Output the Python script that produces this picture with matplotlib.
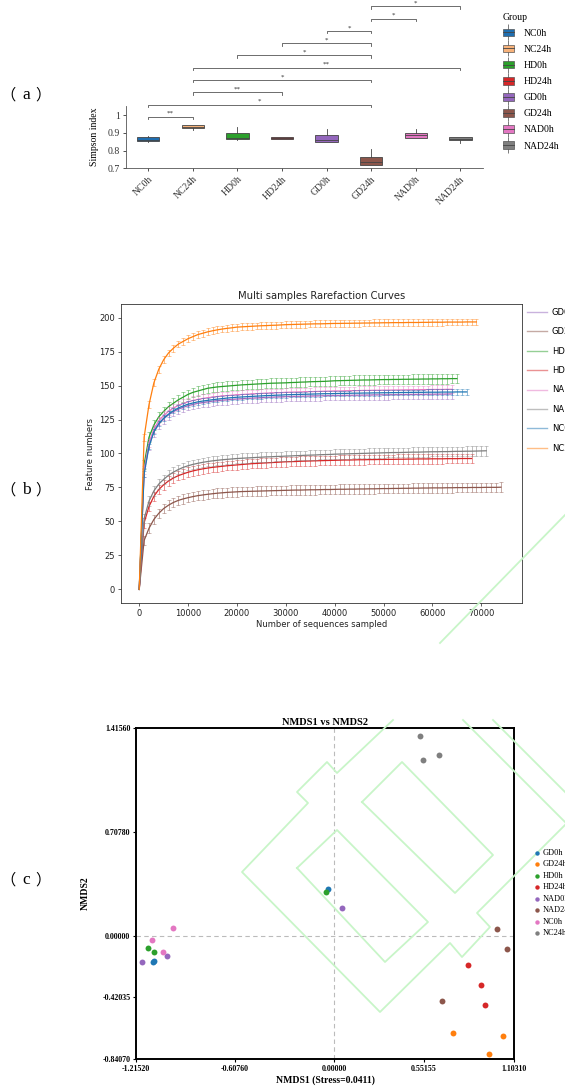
import numpy as np
import matplotlib
matplotlib.use('Agg')
import matplotlib.pyplot as plt
from matplotlib.patches import Patch
from matplotlib.lines import Line2D
from matplotlib.legend_handler import HandlerTuple
from matplotlib.ticker import FuncFormatter

SERIF = 'Liberation Serif'
CJK = ['Noto Sans CJK SC', 'Liberation Serif']

# ===================== (a) Simpson index =====================
A_GROUPS = ['NC0h', 'NC24h', 'HD0h', 'HD24h', 'GD0h', 'GD24h', 'NAD0h', 'NAD24h']
A_COLORS = ['#1f6eb0', '#f7b27a', '#2ca02c', '#d62728', '#9467bd', '#8c564b', '#e377c2', '#7f7f7f']
SIMPSON_LO = [0.846, 0.916, 0.862, 0.864, 0.849, 0.718, 0.870, 0.843]
SIMPSON_Q1 = [0.852, 0.928, 0.864, 0.865, 0.851, 0.720, 0.872, 0.860]
SIMPSON_MED = [0.862, 0.935, 0.870, 0.869, 0.858, 0.735, 0.885, 0.867]
SIMPSON_Q3 = [0.874, 0.944, 0.899, 0.874, 0.888, 0.764, 0.899, 0.876]
SIMPSON_HI = [0.880, 0.944, 0.930, 0.876, 0.919, 0.806, 0.923, 0.877]
# significance brackets (group index pairs), bottom to top
SIG_PAIRS = [(0, 1), (0, 5), (1, 3), (1, 5), (1, 7), (2, 5), (3, 5), (4, 5), (5, 6), (5, 7)]
SIG_LABELS = ['**', '*', '**', '*', '**', '*', '*', '*', '*', '*']

# ===================== (b) rarefaction curves =====================
B_GROUPS = ['GD0h', 'GD24h', 'HD0h', 'HD24h', 'NAD0h', 'NAD24h', 'NC0h', 'NC24h']
B_COLORS = ['tab:purple', 'tab:brown', 'tab:green', 'tab:red', 'tab:pink', 'tab:gray', 'tab:blue', 'tab:orange']
DEPTH_STEP = 1000
RARE_GD0H = [0, 86, 106, 116, 121.5, 125.5, 128.5, 130.8, 132.6, 134, 135.2, 136.1, 136.9, 137.5, 138, 138.5,
             138.9, 139.2, 139.5, 139.8, 140.1,
             140.3, 140.5, 140.7, 140.9, 141.1, 141.3, 141.4, 141.6, 141.7, 141.8,
             141.9, 142, 142.1, 142.2, 142.3, 142.4, 142.4, 142.5, 142.6, 142.7,
             142.7, 142.8, 142.8, 142.9, 142.9, 143, 143, 143.1, 143.1, 143.2,
             143.2, 143.3, 143.3, 143.4, 143.4, 143.5, 143.5, 143.5, 143.6, 143.6,
             143.7, 143.7, 143.7, 143.8]
RARE_GD24H = [0, 36, 45, 51.5, 56, 59.5, 62, 64, 65.5, 66.6, 67.5, 68.3, 69, 69.5, 70, 70.4, 70.8, 71.1, 71.4,
              71.6, 71.8,
              72, 72.1, 72.2, 72.3, 72.4, 72.5, 72.6, 72.7, 72.8, 72.9,
              73, 73.1, 73.1, 73.2, 73.3, 73.3, 73.4, 73.5, 73.5, 73.6,
              73.7, 73.7, 73.8, 73.8, 73.9, 73.9, 74, 74, 74.1, 74.2,
              74.2, 74.3, 74.3, 74.4, 74.4, 74.5, 74.5, 74.6, 74.6, 74.7,
              74.7, 74.7, 74.8, 74.8, 74.9, 74.9, 74.9, 75, 75, 75, 75.1, 75.1, 75.1, 75.2]
RARE_HD0H = [0, 92, 112, 121, 127, 131, 134.5, 137, 139.5, 141.5, 143.5, 145, 146, 147, 148, 148.5, 149, 149.3,
             149.6, 149.9, 150.2,
             150.5, 150.7, 150.9, 151.1, 151.3, 151.5, 151.7, 151.8, 151.9, 152,
             152.2, 152.3, 152.5, 152.6, 152.8, 152.9, 153, 153.1, 153.3, 153.5,
             153.6, 153.7, 153.8, 153.9, 154, 154.1, 154.1, 154.2, 154.3, 154.4,
             154.4, 154.5, 154.5, 154.6, 154.6, 154.7, 154.7, 154.8, 154.8, 154.9,
             154.9, 155, 155, 155.1, 155.1]
RARE_HD24H = [0, 49, 61, 68.5, 73.5, 77, 79.8, 82, 83.7, 85, 86.2, 87.2, 88, 88.7, 89.3, 89.8, 90.2, 90.6, 91,
              91.3, 91.6,
              91.9, 92.2, 92.5, 92.7, 92.9, 93.1, 93.3, 93.5, 93.7, 93.9,
              94, 94.1, 94.3, 94.4, 94.5, 94.6, 94.7, 94.8, 94.9, 95,
              95.1, 95.2, 95.2, 95.3, 95.4, 95.4, 95.5, 95.5, 95.6, 95.6,
              95.7, 95.7, 95.8, 95.8, 95.9, 95.9, 96, 96, 96, 96.1,
              96.1, 96.1, 96.2, 96.2, 96.2, 96.3, 96.3, 96.3]
RARE_NAD0H = [0, 88, 108, 118, 124, 128, 131, 133.5, 135.3, 136.8, 138, 139, 139.8, 140.5, 141, 141.5, 141.9,
              142.3, 142.6, 142.9, 143.2,
              143.4, 143.6, 143.8, 144, 144.2, 144.4, 144.5, 144.7, 144.8, 145,
              145.1, 145.2, 145.3, 145.4, 145.5, 145.6, 145.7, 145.8, 145.9, 146,
              146, 146.1, 146.2, 146.2, 146.3, 146.4, 146.4, 146.5, 146.5, 146.6,
              146.6, 146.7, 146.7, 146.8, 146.8, 146.9, 146.9, 147, 147, 147.1,
              147.1, 147.1, 147.2, 147.2]
RARE_NAD24H = [0, 52, 65, 72.5, 77.5, 81, 84, 86.3, 88.2, 89.8, 91, 92, 92.8, 93.5, 94.1, 94.6, 95, 95.4, 95.7,
               96, 96.3,
               96.5, 96.7, 96.9, 97.1, 97.3, 97.5, 97.6, 97.8, 97.9, 98.1,
               98.2, 98.4, 98.5, 98.7, 98.8, 98.9, 99.1, 99.2, 99.3, 99.5,
               99.6, 99.7, 99.8, 99.9, 100, 100.1, 100.2, 100.3, 100.4, 100.5,
               100.6, 100.7, 100.7, 100.8, 100.9, 101, 101, 101.1, 101.2, 101.3,
               101.3, 101.4, 101.4, 101.5, 101.6, 101.6, 101.7, 101.7, 101.8, 101.9, 102]
RARE_NC0H = [0, 85, 105, 116, 122, 126, 129, 131.5, 133.5, 135, 136.3, 137.2, 138, 138.6, 139.1, 139.6, 140,
             140.4, 140.8, 141.1, 141.4,
             141.6, 141.8, 142, 142.2, 142.4, 142.6, 142.7, 142.9, 143, 143.2,
             143.3, 143.4, 143.5, 143.6, 143.7, 143.8, 143.9, 144, 144, 144.1,
             144.2, 144.2, 144.3, 144.4, 144.4, 144.5, 144.5, 144.6, 144.6, 144.7,
             144.7, 144.8, 144.8, 144.9, 144.9, 145, 145, 145, 145.1, 145.1,
             145.1, 145.2, 145.2, 145.2, 145.3, 145.3, 145.3]
RARE_NC24H = [0, 112, 136, 152, 162, 169, 174, 177.5, 180.5, 182.5, 184.5, 186, 187.5, 188.5, 189.5, 190.3, 191,
              191.6, 192.1, 192.5, 193,
              193.2, 193.4, 193.6, 193.8, 194, 194.1, 194.3, 194.4, 194.6, 194.8,
              194.9, 195, 195.1, 195.2, 195.3, 195.4, 195.4, 195.5, 195.6, 195.7,
              195.7, 195.8, 195.8, 195.9, 195.9, 196, 196, 196.1, 196.1, 196.2,
              196.2, 196.3, 196.3, 196.3, 196.4, 196.4, 196.4, 196.5, 196.5, 196.6,
              196.6, 196.6, 196.7, 196.7, 196.7, 196.7, 196.8, 196.8, 196.8]
RARE_CURVES = [RARE_GD0H, RARE_GD24H, RARE_HD0H, RARE_HD24H, RARE_NAD0H, RARE_NAD24H, RARE_NC0H, RARE_NC24H]
RARE_SD = [3.5, 3.5, 3.5, 3.5, 3.0, 3.5, 2.0, 2.5]

# ===================== (c) NMDS =====================
C_GROUPS = ['GD0h', 'GD24h', 'HD0h', 'HD24h', 'NAD0h', 'NAD24h', 'NC0h', 'NC24h']
C_COLORS = ['tab:blue', 'tab:orange', 'tab:green', 'tab:red', 'tab:purple', 'tab:brown', 'tab:pink', 'tab:gray']
NMDS1 = [[-0.039, -1.113, -1.107], [0.730, 1.038, 0.950], [-0.051, -1.143, -1.105], [0.820, 0.903, 0.924],
         [0.047, -1.027, -1.176], [1.000, 1.063, 0.662], [-0.986, -1.117, -1.052], [0.527, 0.644, 0.546]]
NMDS2 = [[0.318, -0.177, -0.172], [-0.661, -0.682, -0.809], [0.298, -0.082, -0.109], [-0.198, -0.334, -0.473],
         [0.191, -0.141, -0.177], [0.045, -0.093, -0.447], [0.052, -0.027, -0.109], [1.361, 1.231, 1.195]]
C_XTICKS = [-1.21520, -0.60760, 0.00000, 0.55155, 1.10310]
C_YTICKS = [-0.84070, -0.42035, 0.00000, 0.70780, 1.41560]

W, H = 565, 1088
fig = plt.figure(figsize=(W / 100, H / 100), dpi=100)


def fx(px):
    return px / W


def fy(py):
    return 1 - py / H


# ---------------- (a) ----------------
ax1 = fig.add_axes([fx(126), fy(168.3), fx(356.7), 62.1 / H])
stats = []
for i in range(len(A_GROUPS)):
    stats.append(dict(whislo=SIMPSON_LO[i], q1=SIMPSON_Q1[i], med=SIMPSON_MED[i],
                      q3=SIMPSON_Q3[i], whishi=SIMPSON_HI[i], fliers=[]))
bp = ax1.bxp(stats, positions=range(len(A_GROUPS)), widths=0.5, patch_artist=True,
             boxprops=dict(edgecolor='#444444', linewidth=0.6),
             medianprops=dict(color='#444444', linewidth=0.6),
             whiskerprops=dict(color='#444444', linewidth=0.6),
             capprops=dict(linewidth=0))
for patch, c in zip(bp['boxes'], A_COLORS):
    patch.set_facecolor(c)

ax1.set_xlim(-0.5, 7.5)
ax1.set_ylim(0.7, 1.05)
ax1.set_yticks([0.7, 0.8, 0.9, 1.0])
ax1.yaxis.set_major_formatter(FuncFormatter(lambda v, p: '%g' % v))
ax1.set_xticks(range(len(A_GROUPS)))
ax1.set_xticklabels(A_GROUPS, rotation=45, ha='right', rotation_mode='anchor')
for lab in ax1.get_xticklabels() + ax1.get_yticklabels():
    lab.set_fontfamily(SERIF)
    lab.set_fontsize(7)
ax1.tick_params(length=2.5, width=0.6, pad=2, colors='#333333')
ax1.set_ylabel('Simpson index', fontfamily=SERIF, fontsize=7, labelpad=6)
for s in ['top', 'right']:
    ax1.spines[s].set_visible(False)
for s in ['left', 'bottom']:
    ax1.spines[s].set_linewidth(0.6)
    ax1.spines[s].set_color('#555555')

# significance brackets
level0, dlevel, drop = 0.990, 0.0692, 0.014
for k, ((i, j), lab) in enumerate(zip(SIG_PAIRS, SIG_LABELS)):
    yy = level0 + k * dlevel
    ax1.plot([i, i, j, j], [yy - drop, yy, yy, yy - drop], color='#555555', lw=0.6, clip_on=False)
    ax1.text((i + j) / 2, yy + 0.004, lab, ha='center', va='bottom', fontsize=5,
             fontfamily=SERIF, color='#333333', clip_on=False)

handles = []
for c in A_COLORS:
    handles.append((Line2D([], [], color='#666666', lw=0, marker='|', markersize=12, markeredgewidth=0.6),
                    Patch(facecolor=c, edgecolor='#555555', linewidth=0.5),
                    Line2D([], [], color='#444444', lw=0.6)))
leg1 = fig.legend(handles, A_GROUPS, loc='upper left', bbox_to_anchor=(fx(496), fy(6)),
                  frameon=False, title='Group', handler_map={tuple: HandlerTuple(ndivide=1, pad=0)},
                  prop={'family': SERIF, 'size': 7}, handlelength=1.1, handleheight=0.8,
                  labelspacing=0.72, handletextpad=1.0, borderpad=0.2)
leg1.get_title().set_fontfamily(SERIF)
leg1.get_title().set_fontsize(7)
leg1._legend_box.align = 'left'

# ---------------- (b) ----------------
ax2 = fig.add_axes([fx(121), fy(603), fx(401), 299 / H])
for name, vals, c, sd in zip(B_GROUPS, RARE_CURVES, B_COLORS, RARE_SD):
    x = np.arange(len(vals)) * DEPTH_STEP
    y = np.array(vals)
    ax2.errorbar(x[1:], y[1:], yerr=sd, fmt='none', ecolor=c, alpha=0.5, elinewidth=0.7,
                 capsize=1.3, capthick=0.6)
    ax2.plot(x, y, color=c, lw=0.9)
ax2.set_xlim(-3730, 78330)
ax2.set_ylim(-10, 210)
ax2.set_xticks(range(0, 70001, 10000))
ax2.set_yticks(range(0, 201, 25))
ax2.tick_params(labelsize=6, length=2.2, width=0.5, pad=2, colors='#222222')
for s in ax2.spines.values():
    s.set_linewidth(0.6)
    s.set_color('#333333')
ax2.set_title('Multi samples Rarefaction Curves', fontsize=7.2, pad=3.5, color='#222222')
ax2.set_xlabel('Number of sequences sampled', fontsize=6, labelpad=1.5, color='#222222')
ax2.set_ylabel('Feature numbers', fontsize=6, labelpad=3, color='#222222')
b_handles = [Line2D([], [], color=c, lw=1.0, alpha=0.5) for c in B_COLORS]
fig.legend(b_handles, B_GROUPS, loc='upper left', bbox_to_anchor=(fx(521), fy(302)),
           frameon=False, fontsize=6, handlelength=2.4, labelspacing=1.25, handletextpad=0.6,
           borderpad=0.2)

# ---------------- (c) ----------------
ax3 = fig.add_axes([fx(136), fy(1059), fx(378), 331 / H])
ax3.axhline(0, color='#bbbbbb', ls=(0, (4, 3)), lw=0.8, zorder=1)
ax3.axvline(0, color='#bbbbbb', ls=(0, (4, 3)), lw=0.8, zorder=1)
for name, xs, ys, c in zip(C_GROUPS, NMDS1, NMDS2, C_COLORS):
    ax3.scatter(xs, ys, s=18, color=c, label=name, linewidths=0, zorder=3)
ax3.set_xlim(C_XTICKS[0], C_XTICKS[-1])
ax3.set_ylim(C_YTICKS[0], C_YTICKS[-1])
ax3.set_xticks(C_XTICKS)
ax3.set_xticklabels(['%.5f' % v for v in C_XTICKS])
ax3.set_yticks(C_YTICKS)
ax3.set_yticklabels(['%.5f' % v for v in C_YTICKS])
for lab in ax3.get_xticklabels() + ax3.get_yticklabels():
    lab.set_fontfamily(SERIF)
    lab.set_fontweight('bold')
    lab.set_fontsize(5.7)
ax3.tick_params(length=2, width=0.8, pad=2)
for s in ax3.spines.values():
    s.set_linewidth(1.4)
    s.set_color('black')
ax3.set_title('NMDS1 vs NMDS2', fontfamily=SERIF, fontweight='bold', fontsize=7.5, pad=2)
ax3.set_xlabel('NMDS1 (Stress=0.0411)', fontfamily=SERIF, fontweight='bold', fontsize=7, labelpad=2)
ax3.set_ylabel('NMDS2', fontfamily=SERIF, fontweight='bold', fontsize=7, labelpad=9)
fig.legend(*ax3.get_legend_handles_labels(), loc='upper left', bbox_to_anchor=(fx(526), fy(843)),
           frameon=False, prop={'family': SERIF, 'size': 6}, markerscale=0.75,
           labelspacing=0.42, handletextpad=0.1, borderpad=0.2, handlelength=1.2)

# panel labels: （a） （b） （c）
for letter, py in [('a', 95), ('b', 490), ('c', 880)]:
    fig.text(fx(16), fy(py), '（', fontfamily=CJK, fontsize=11, ha='right', va='center')
    fig.text(fx(26), fy(py), letter, fontfamily=SERIF, fontsize=12.5, ha='center', va='center')
    fig.text(fx(35), fy(py), '）', fontfamily=CJK, fontsize=11, ha='left', va='center')

# light green background watermark
WM = '#c8f5c8'
wm_lines = [
    [(393, 720), (337, 773), (327, 762), (297, 792), (308, 803), (242, 872), (380, 1012), (450, 943),
     (462, 957), (490, 927), (477, 913), (565, 825)],
    [(362, 802), (402, 762), (493, 855), (455, 893), (362, 802)],
    [(297, 868), (337, 830), (428, 922), (385, 962), (297, 868)],
    [(463, 720), (565, 822)],
    [(493, 720), (565, 792)],
    [(565, 515), (440, 643)],
]
for pts in wm_lines:
    xs = [fx(p[0]) for p in pts]
    ys = [fy(p[1]) for p in pts]
    fig.add_artist(Line2D(xs, ys, transform=fig.transFigure, color=WM, lw=1.3, zorder=1))

fig.savefig('out.png', dpi=100)
